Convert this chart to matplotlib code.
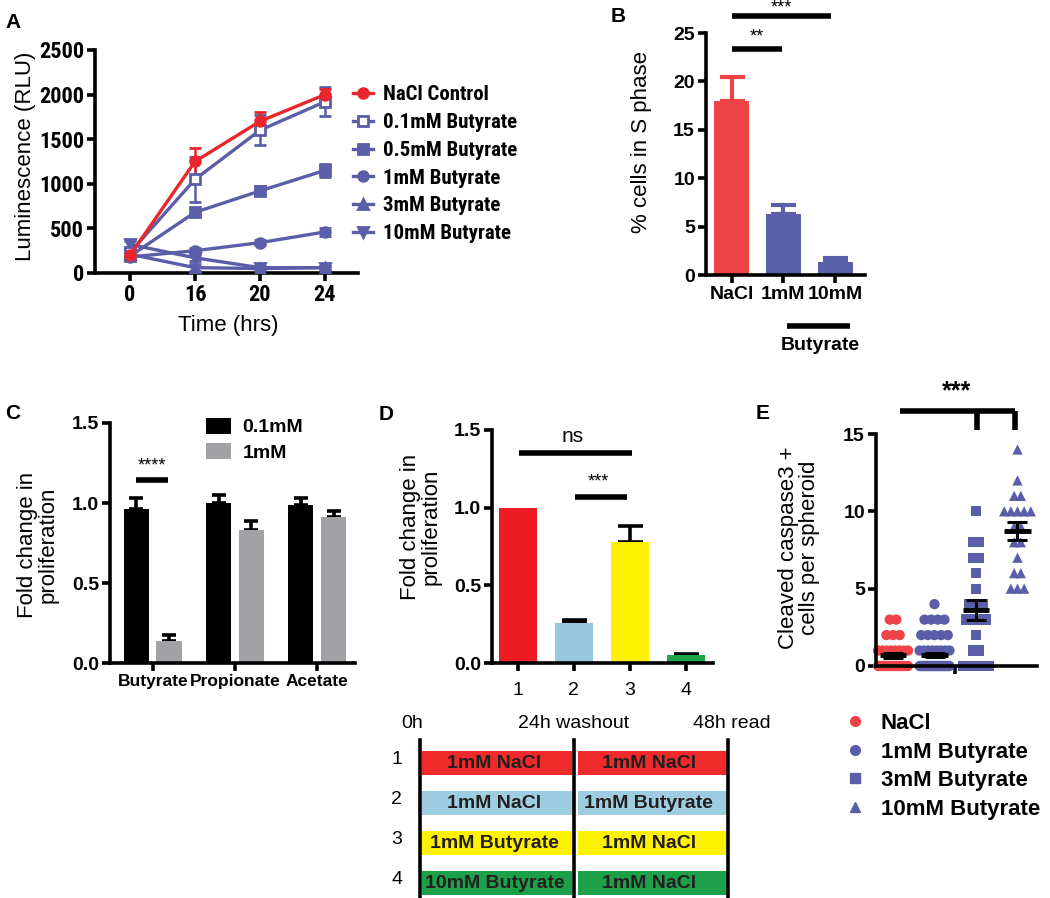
import numpy as np
import matplotlib
matplotlib.use('Agg')
import matplotlib.pyplot as plt
from matplotlib import font_manager
from matplotlib.font_manager import FontProperties
from matplotlib.lines import Line2D

# ---------------- data ----------------
# Panel A
a_times = ['0', '16', '20', '24']
a_labels = ['NaCl Control', '0.1mM Butyrate', '0.5mM Butyrate',
            '1mM Butyrate', '3mM Butyrate', '10mM Butyrate']
a_nacl = [200, 1250, 1700, 2000]
a_nacl_err = [40, 150, 110, 60]
a_b01 = [230, 1050, 1600, 1920]
a_b01_err = [50, 250, 170, 160]
a_b05 = [190, 680, 920, 1150]
a_b05_err = [40, 40, 50, 70]
a_b1 = [180, 250, 340, 460]
a_b1_err = [30, 25, 25, 40]
a_b3 = [210, 60, 50, 60]
a_b3_err = [40, 40, 20, 20]
a_b10 = [320, 170, 60, 60]
a_b10_err = [40, 30, 20, 20]

# Panel B
b_cats = ['NaCl', '1mM', '10mM']
b_vals = [18.0, 6.3, 1.3]
b_err = [2.5, 0.9, 0.5]

# Panel C
c_cats = ['Butyrate', 'Propionate', 'Acetate']
c_low = [0.96, 1.00, 0.99]
c_low_err = [0.07, 0.05, 0.04]
c_high = [0.14, 0.83, 0.91]
c_high_err = [0.035, 0.06, 0.04]
c_legend = ['0.1mM', '1mM']

# Panel D
d_cats = ['1', '2', '3', '4']
d_vals = [1.0, 0.26, 0.78, 0.05]
d_err = [0.0, 0.015, 0.10, 0.01]
sched_rows = ['1', '2', '3', '4']
sched_first = ['1mM NaCl', '1mM NaCl', '1mM Butyrate', '10mM Butyrate']
sched_second = ['1mM NaCl', '1mM Butyrate', '1mM NaCl', '1mM NaCl']
sched_times = [0, 24, 48]
sched_time_labels = ['0h', '24h washout', '48h read']

# Panel E
e_labels = ['NaCl', '1mM Butyrate', '3mM Butyrate', '10mM Butyrate']
e_nacl = [3, 3, 2, 2, 2] + [1] * 8 + [0] * 16
e_b1 = [4, 3, 3, 3, 3, 2, 2, 2, 2, 2] + [1] * 8 + [0] * 30
e_b3 = [10, 8, 8, 7, 7, 6, 5, 4, 4, 4, 3, 3, 3, 3, 2, 1, 1, 0, 0, 0, 0, 0]
e_b10 = [14, 12, 11, 11, 10, 10, 10, 10, 10, 9, 9, 8, 8, 7, 6, 6, 5, 5, 5]

# ---------------- style ----------------
SANS = 'Liberation Sans'
plt.rcParams['font.family'] = [SANS, 'DejaVu Sans']

# look for a narrow / condensed bold face for panel A
narrow_path = None
for pref in ('Liberation Sans Narrow', 'Arial Narrow', 'Roboto Condensed', 'Open Sans Condensed',
             'DejaVu Sans Condensed', 'DejaVu Sans'):
    for f in font_manager.fontManager.ttflist:
        nm = f.name
        condensed = ('Narrow' in nm or 'Condensed' in nm or 'ondensed' in str(f.stretch)
                     or 'Condensed' in f.fname or 'Narrow' in f.fname)
        if nm.startswith(pref.split(' Narrow')[0].split(' Condensed')[0]) and condensed \
                and f.weight in ('bold', 700, 'Bold') and 'Oblique' not in f.fname and 'Italic' not in f.fname:
            narrow_path = f.fname
            break
    if narrow_path:
        break


def narrow_fp(size):
    if narrow_path:
        return FontProperties(fname=narrow_path, size=size)
    return FontProperties(family=SANS, weight='bold', size=size * 0.86)


RED = '#E8262B'
BLUE = '#5A5EA8'
B_RED = '#EF4347'
B_BLUE = '#5A5FAA'

W, H = 1050, 898
fig = plt.figure(figsize=(W / 100, H / 100), dpi=100)


def box(l, t, r, b):
    return [l / W, 1 - b / H, (r - l) / W, (b - t) / H]


def fx(x):
    return x / W


def fy(y):
    return 1 - y / H


def style(ax, lw=2.6):
    for s in ['top', 'right']:
        ax.spines[s].set_visible(False)
    for s in ['left', 'bottom']:
        ax.spines[s].set_linewidth(lw)
    ax.tick_params(width=lw, length=6, direction='out', pad=2)


def tickfont(ax, size, xweight='bold', yweight='bold', fp=None):
    for t in ax.get_yticklabels():
        if fp is not None:
            t.set_fontproperties(fp)
        else:
            t.set_fontsize(size)
            t.set_fontweight(yweight)
    for t in ax.get_xticklabels():
        if fp is not None:
            t.set_fontproperties(fp)
        else:
            t.set_fontsize(size)
            t.set_fontweight(xweight)


def letter(x, y, s):
    fig.text(fx(x), fy(y), s, fontsize=15, fontweight='bold', ha='center', va='center')


def ylab(x, y, s, size=16):
    fig.text(fx(x), fy(y), s, fontsize=size, rotation=90, ha='center', va='center',
             multialignment='center', linespacing=1.0)


def upper_err(ax, xs, vals, errs, colors, lw, cap):
    for xv, v, e, c in zip(xs, vals, errs, colors):
        ax.errorbar([xv], [v], yerr=[[0], [e]], fmt='none', ecolor=c,
                    elinewidth=lw, capsize=cap, capthick=lw, zorder=1)


# ---------------- Panel A ----------------
axA = fig.add_axes(box(95, 50, 358, 273))
style(axA)
xa = np.arange(len(a_times))
series = [
    (a_nacl, a_nacl_err, RED, 'o', RED),
    (a_b01, a_b01_err, BLUE, 's', 'white'),
    (a_b05, a_b05_err, BLUE, 's', BLUE),
    (a_b1, a_b1_err, BLUE, 'o', BLUE),
    (a_b3, a_b3_err, BLUE, '^', BLUE),
    (a_b10, a_b10_err, BLUE, 'v', BLUE),
]
handles = []
for (vals, err, col, mk, fc), lab in reversed(list(zip(series, a_labels))):
    axA.errorbar(xa, vals, yerr=err, color=col, lw=2.4, marker=mk, ms=7,
                 mfc=fc, mec=col, mew=2, capsize=4, capthick=2, elinewidth=1.8, zorder=3)
for (vals, err, col, mk, fc), lab in zip(series, a_labels):
    handles.append(Line2D([], [], color=col, lw=2.4, marker=mk, ms=7, mfc=fc, mec=col, mew=2, label=lab))
axA.set_xlim(-0.54, 3.51)
axA.set_ylim(0, 2500)
axA.set_yticks([0, 500, 1000, 1500, 2000, 2500])
axA.set_xticks(xa, a_times)
tickfont(axA, 15, fp=narrow_fp(16))
axA.legend(handles=handles, loc='upper left', bbox_to_anchor=(fx(343), fy(75)),
           bbox_transform=fig.transFigure, frameon=False, handlelength=0.95,
           handletextpad=0.45, labelspacing=0.42, borderpad=0,
           prop=narrow_fp(15))
ylab(26, 156, 'Luminescence (RLU)')
fig.text(fx(228), fy(326), 'Time (hrs)', fontsize=16, ha='center', va='center')
letter(13, 22, 'A')

# ---------------- Panel B ----------------
axB = fig.add_axes(box(706, 33, 865, 275))
style(axB)
xb = np.arange(len(b_cats))
b_cols = [B_RED, B_BLUE, B_BLUE]
axB.bar(xb, b_vals, width=0.68, color=b_cols, zorder=2)
upper_err(axB, xb, b_vals, b_err, b_cols, 3, 9)
axB.set_xlim(-0.5, 2.58)
axB.set_ylim(0, 25)
axB.set_yticks([0, 5, 10, 15, 20, 25])
axB.set_xticks(xb, b_cats)
tickfont(axB, 14)
axB.plot([0, 1.92], [26.8, 26.8], color='black', lw=4, clip_on=False, solid_capstyle='butt')
axB.plot([0, 0.97], [23.3, 23.3], color='black', lw=4, clip_on=False, solid_capstyle='butt')
axB.text(0.96, 26.75, '***', ha='center', va='bottom', fontsize=13)
axB.text(0.48, 23.7, '**', ha='center', va='bottom', fontsize=13)
fig.add_artist(Line2D([fx(787), fx(850)], [fy(326), fy(326)], color='black', lw=4,
                      solid_capstyle='butt'))
fig.text(fx(820), fy(346), 'Butyrate', fontsize=14, fontweight='bold', ha='center', va='center')
ylab(642, 142, '% cells in S phase')
letter(618, 17, 'B')

# ---------------- Panel C ----------------
axC = fig.add_axes(box(110, 423, 355, 663))
style(axC)
xc = np.arange(len(c_cats))
off, bw = 0.2, 0.31
axC.bar(xc - off, c_low, width=bw, color='black', zorder=2, label=c_legend[0])
axC.bar(xc + off, c_high, width=bw, color='#A2A2A6', zorder=2, label=c_legend[1])
upper_err(axC, xc - off, c_low, c_low_err, ['black'] * 3, 2.6, 5)
upper_err(axC, xc + off, c_high, c_high_err, ['black'] * 3, 2.6, 5)
axC.set_xlim(-0.52, 2.46)
axC.set_ylim(0, 1.5)
axC.set_yticks([0.0, 0.5, 1.0, 1.5])
axC.set_yticklabels(['0.0', '0.5', '1.0', '1.5'])
axC.set_xticks(xc, c_cats)
tickfont(axC, 14)
for t in axC.get_xticklabels():
    t.set_fontsize(12.5)
axC.legend(loc='upper left', bbox_to_anchor=(fx(196), fy(408)), bbox_transform=fig.transFigure,
           frameon=False, handlelength=1.3, handleheight=0.9, handletextpad=0.6,
           labelspacing=0.35, borderpad=0, prop=dict(family=SANS, weight='bold', size=14))
axC.plot([-0.2, 0.18], [1.144, 1.144], color='black', lw=4, solid_capstyle='butt', clip_on=False)
axC.text(-0.01, 1.18, '****', ha='center', va='bottom', fontsize=13)
ylab(38, 545, 'Fold change in\nproliferation')
letter(13, 413, 'C')

# ---------------- Panel D ----------------
axD = fig.add_axes(box(492, 430, 713, 663))
style(axD)
xd = np.arange(len(d_cats))
d_cols = ['#ED1C24', '#96C9E0', '#FFF100', '#1DA64A']
axD.bar(xd, d_vals, width=0.67, color=d_cols, zorder=2)
upper_err(axD, xd[1:], d_vals[1:], d_err[1:], ['black'] * 3, 2.6, 9)
axD.set_xlim(-0.46, 3.48)
axD.set_ylim(0, 1.5)
axD.set_yticks([0.0, 0.5, 1.0, 1.5])
axD.set_yticklabels(['0.0', '0.5', '1.0', '1.5'])
axD.set_xticks(xd, d_cats)
tickfont(axD, 14, xweight='normal')
axD.tick_params(axis='x', pad=8)
axD.plot([0.02, 2.04], [1.35, 1.35], color='black', lw=4, solid_capstyle='butt', clip_on=False)
axD.text(0.98, 1.40, 'ns', ha='center', va='bottom', fontsize=15)
axD.plot([1.02, 1.95], [1.07, 1.07], color='black', lw=4, solid_capstyle='butt', clip_on=False)
axD.text(1.43, 1.11, '***', ha='center', va='bottom', fontsize=13)
ylab(421, 527, 'Fold change in\nproliferation')
letter(386, 415, 'D')

# schedule diagram
axS = fig.add_axes(box(380, 700, 770, 898))
axS.set_xlim(-6.2, 54.5)
axS.set_ylim(4.375, -0.575)
axS.axis('off')
s_cols = ['#EE2A2A', '#9ECDE2', '#FFF200', '#1CA04A']
rows_y = np.arange(1, 5)
for i, (r, f, s) in enumerate(zip(sched_rows, sched_first, sched_second)):
    yv = rows_y[i]
    axS.barh(yv, 23.4, left=0.3, height=0.62, color=s_cols[i], zorder=1)
    axS.barh(yv, 23.4, left=24.6, height=0.62, color=s_cols[i], zorder=1)
    axS.text(11.6, yv, f, ha='center', va='center', fontsize=14, fontweight='bold', color='#231F20')
    axS.text(35.6, yv, s, ha='center', va='center', fontsize=14, fontweight='bold', color='#231F20')
    axS.text(-3.6, yv - 0.1, r, ha='center', va='center', fontsize=14)
for t in sched_times:
    axS.plot([t, t], [0.43, 4.375], color='black', lw=2.6, zorder=2)
axS.text(sched_times[0] - 1.2, 0.0, sched_time_labels[0], ha='center', va='center', fontsize=14)
axS.text(sched_times[1], 0.0, sched_time_labels[1], ha='center', va='center', fontsize=14)
axS.text(sched_times[2] - 5.5, 0.0, sched_time_labels[2], ha='left', va='center', fontsize=14)

# ---------------- Panel E ----------------
axE = fig.add_axes(box(876, 434, 1037, 666))
style(axE)
e_data = [e_nacl, e_b1, e_b3, e_b10]
e_cols = [B_RED, BLUE, BLUE, BLUE]
e_marks = ['o', 'o', 's', '^']
for gi, (vals, col, mk) in enumerate(zip(e_data, e_cols, e_marks)):
    vals = np.asarray(vals, dtype=float)
    xs = np.zeros_like(vals)
    for v in np.unique(vals):
        idx = np.where(vals == v)[0]
        k = len(idx)
        dx = min(0.16, 0.72 / max(k - 1, 1))
        xs[idx] = gi + (np.arange(k) - (k - 1) / 2) * dx
    axE.scatter(xs, vals, s=55, marker=mk, color=col, edgecolors='none', zorder=2, clip_on=False)
    m = vals.mean()
    sem = vals.std(ddof=1) / np.sqrt(len(vals))
    axE.plot([gi - 0.32, gi + 0.32], [m, m], color='black', lw=3.5, zorder=4, solid_capstyle='butt')
    axE.errorbar([gi], [m], yerr=[sem], fmt='none', ecolor='black', elinewidth=2.2,
                 capsize=7, capthick=2.2, zorder=4)
axE.set_xlim(-0.41, 3.47)
axE.set_ylim(0, 15)
axE.set_yticks([0, 5, 10, 15])
axE.set_xticks([1.5], [''])
tickfont(axE, 14)
axE.plot([0.17, 2.94], [16.5, 16.5], color='black', lw=4, clip_on=False, solid_capstyle='butt')
axE.plot([2.02, 2.02], [16.5, 15.25], color='black', lw=4, clip_on=False, solid_capstyle='butt')
axE.plot([2.94, 2.94], [16.5, 15.25], color='black', lw=4, clip_on=False, solid_capstyle='butt')
axE.text(1.54, 17.0, '***', ha='center', va='bottom', fontsize=18, fontweight='bold')
ylab(799, 548, 'Cleaved caspase3 +\ncells per spheroid')
letter(763, 413, 'E')
e_handles = [Line2D([], [], ls='none', marker=mk, ms=7, color=col, label=lab)
             for mk, col, lab in zip(e_marks, e_cols, e_labels)]
fig.legend(handles=e_handles, loc='upper left', bbox_to_anchor=(fx(835), fy(702)),
           frameon=False, handlelength=0.8, handletextpad=0.75, labelspacing=0.34,
           borderpad=0, prop=dict(family=SANS, weight='bold', size=16))

fig.savefig('out.png', dpi=100)
